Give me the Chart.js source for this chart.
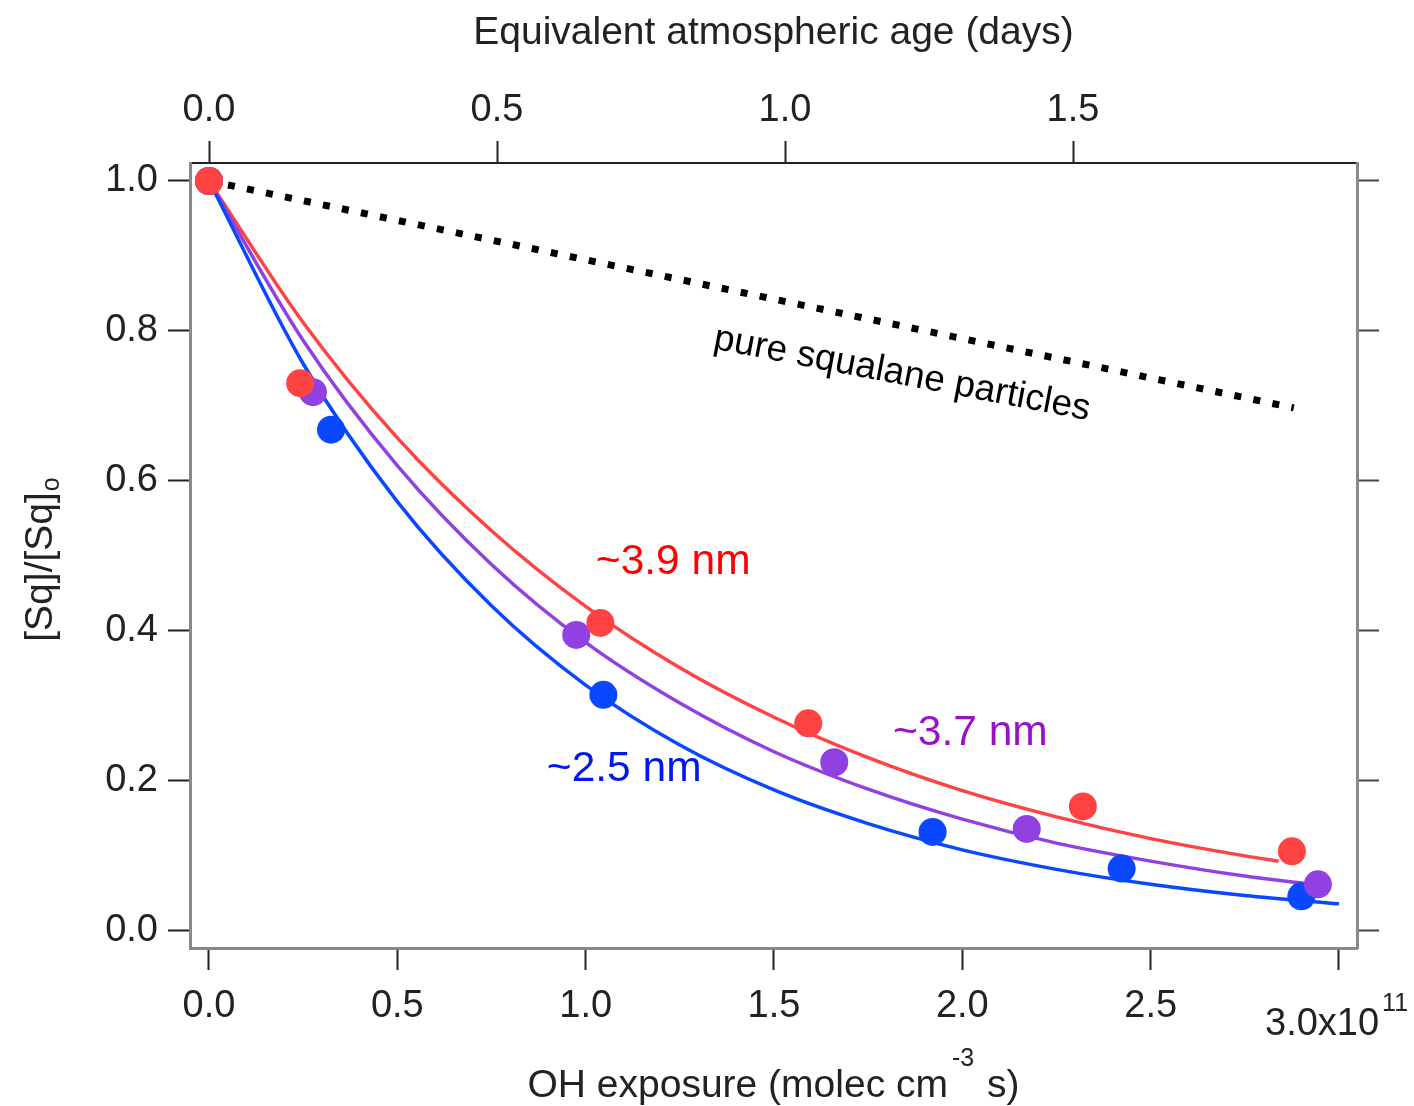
<!DOCTYPE html>
<html>
<head>
<meta charset="utf-8">
<script src="https://cdn.jsdelivr.net/npm/chart.js@4/dist/chart.umd.min.js"></script>
<style>
html,body{margin:0;padding:0;background:#fff;}
canvas{display:block;}
</style>
</head>
<body>
<canvas id="c" width="1414" height="1106"></canvas>
<script>
// ---- Data ----
const ohRed = [0, 0.242, 1.039, 1.591, 2.320, 2.875];
const sqRed = [1.0, 0.730, 0.410, 0.276, 0.165, 0.105];
const ohPurple = [0, 0.276, 0.975, 1.660, 2.171, 2.944];
const sqPurple = [1.0, 0.718, 0.394, 0.224, 0.135, 0.061];
const ohBlue = [0, 0.324, 1.047, 1.921, 2.423, 2.900];
const sqBlue = [1.0, 0.668, 0.314, 0.131, 0.082, 0.045];

const fitXRed = [0, 0.25, 0.5, 0.75, 1.0, 1.25, 1.5, 1.75, 2.0, 2.25, 2.5, 2.75, 2.84];
const fitYRed = [1.0, 0.811, 0.657, 0.533, 0.432, 0.350, 0.284, 0.230, 0.186, 0.151, 0.122, 0.099, 0.092];
const fitXPurple = [0, 0.25, 0.5, 0.75, 1.0, 1.25, 1.5, 1.75, 2.0, 2.25, 2.5, 2.75, 2.93];
const fitYPurple = [1.0, 0.787, 0.620, 0.488, 0.384, 0.303, 0.238, 0.188, 0.148, 0.116, 0.092, 0.072, 0.061];
const fitXBlue = [0, 0.25, 0.5, 0.75, 1.0, 1.25, 1.5, 1.75, 2.0, 2.25, 2.5, 2.75, 3.0];
const fitYBlue = [1.0, 0.756, 0.572, 0.433, 0.327, 0.247, 0.187, 0.142, 0.107, 0.081, 0.061, 0.046, 0.035];

const pureX = [0, 2.88];
const pureY = [1.0, 0.697];

const xTicks = [0, 0.5, 1.0, 1.5, 2.0, 2.5, 3.0];
const yTicks = [0, 0.2, 0.4, 0.6, 0.8, 1.0];
const dayTicks = [0, 0.5, 1.0, 1.5];

const labels = [
  {text: '~3.9 nm', x: 1.027, y: 0.491, color: '#ff0000'},
  {text: '~3.7 nm', x: 1.816, y: 0.263, color: '#9a10c8'},
  {text: '~2.5 nm', x: 0.897, y: 0.214, color: '#0018f0'}
];
const pureLabel = {text: 'pure squalane particles', x: 1.840, y: 0.742};

// ---- helpers ----
const pts = (xs, ys) => xs.map((x, i) => ({x: x, y: ys[i]}));
const FONT = 'Liberation Sans, Arial, Helvetica, sans-serif';
Chart.defaults.font.family = FONT;
Chart.defaults.color = '#222';

const C_RED = '#ff4242', C_PUR = '#9140e2', C_BLU = '#0a48ff';
const TICK_SIZE = 38, TITLE_SIZE = 39;

const annot = {
  id: 'annot',
  afterDatasetsDraw(chart) {
    const ctx = chart.ctx, xs = chart.scales.x, ys = chart.scales.y;
    ctx.save();
    ctx.textBaseline = 'middle';
    ctx.textAlign = 'left';
    ctx.font = '42.5px ' + FONT;
    labels.forEach(l => {
      ctx.fillStyle = l.color;
      ctx.fillText(l.text, xs.getPixelForValue(l.x), ys.getPixelForValue(l.y));
    });
    const px = xs.getPixelForValue(pureLabel.x), py = ys.getPixelForValue(pureLabel.y);
    ctx.translate(px, py);
    ctx.rotate(10.8 * Math.PI / 180);
    ctx.textAlign = 'center';
    ctx.fillStyle = '#000';
    ctx.font = '37px ' + FONT;
    ctx.fillText(pureLabel.text, 0, 0);
    ctx.restore();
  },
  afterDraw(chart) {
    const ctx = chart.ctx, ca = chart.chartArea, xs = chart.scales.x;
    ctx.save();
    ctx.fillStyle = '#222';
    ctx.textBaseline = 'alphabetic';
    ctx.textAlign = 'left';
    // bottom axis title with superscript
    const big = TITLE_SIZE + 'px ' + FONT, small = '25px ' + FONT;
    const p1 = 'OH exposure (molec cm', sup = '-3', p2 = ' s)';
    ctx.font = big; const w1 = ctx.measureText(p1).width, w3 = ctx.measureText(p2).width;
    ctx.font = small; const w2 = ctx.measureText(sup).width;
    const total = w1 + w2 + 6 + w3;
    let x0 = (ca.left + ca.right) / 2 - total / 2;
    const by = 1097;
    ctx.font = big; ctx.fillText(p1, x0, by);
    ctx.font = small; ctx.fillText(sup, x0 + w1 + 4, by - 31);
    ctx.font = big; ctx.fillText(p2, x0 + w1 + w2 + 6, by);
    // exponent tick label at 3.0
    const tx = xs.getPixelForValue(3.0);
    ctx.font = TICK_SIZE + 'px ' + FONT;
    const e1 = '3.0x10';
    const ew = ctx.measureText(e1).width;
    ctx.fillText(e1, tx - 74, 1035);
    ctx.font = small;
    ctx.fillText('11', tx - 74 + ew + 3, 1011);
    // left axis title, rotated, with subscript
    ctx.translate(52, 560);
    ctx.rotate(-Math.PI / 2);
    const y1 = '[Sq]/[Sq]', ysub = 'o';
    ctx.font = big; const yw1 = ctx.measureText(y1).width;
    ctx.font = small; const yw2 = ctx.measureText(ysub).width;
    const yx0 = -(yw1 + yw2) / 2;
    ctx.font = big; ctx.fillText(y1, yx0, 0);
    ctx.font = small; ctx.fillText(ysub, yx0 + yw1 + 1, 7);
    ctx.restore();
  }
};

const tickSetter = (arr) => (scale) => { scale.ticks = arr.map(v => ({value: v})); };

new Chart(document.getElementById('c'), {
  type: 'scatter',
  data: {
    datasets: [
      {label: 'pure squalane', data: pts(pureX, pureY), showLine: true, pointRadius: 0,
       borderColor: '#000', borderWidth: 7, borderDash: [7, 12.4], borderCapStyle: 'butt', order: 10},
      {label: 'fit 2.5 nm', data: pts(fitXBlue, fitYBlue), showLine: true, pointRadius: 0,
       borderColor: C_BLU, borderWidth: 3.5, cubicInterpolationMode: 'monotone', order: 5},
      {label: 'fit 3.7 nm', data: pts(fitXPurple, fitYPurple), showLine: true, pointRadius: 0,
       borderColor: C_PUR, borderWidth: 3.5, cubicInterpolationMode: 'monotone', order: 6},
      {label: 'fit 3.9 nm', data: pts(fitXRed, fitYRed), showLine: true, pointRadius: 0,
       borderColor: C_RED, borderWidth: 3.5, cubicInterpolationMode: 'monotone', order: 7},
      {label: '2.5 nm', data: pts(ohBlue, sqBlue), pointRadius: 14, pointBackgroundColor: C_BLU,
       pointBorderWidth: 0, borderColor: C_BLU, order: 3},
      {label: '3.7 nm', data: pts(ohPurple, sqPurple), pointRadius: 14, pointBackgroundColor: C_PUR,
       pointBorderWidth: 0, borderColor: C_PUR, order: 2},
      {label: '3.9 nm', data: pts(ohRed, sqRed), pointRadius: 14, pointBackgroundColor: C_RED,
       pointBorderWidth: 0, borderColor: C_RED, order: 1}
    ]
  },
  options: {
    responsive: false,
    animation: false,
    devicePixelRatio: 1,
    layout: {padding: 0},
    plugins: {legend: {display: false}, tooltip: {enabled: false}},
    scales: {
      x: {
        type: 'linear', position: 'bottom', min: -0.0504, max: 3.0478,
        afterBuildTicks: tickSetter(xTicks),
        afterFit: (s) => { s.height = 158; },
        grid: {drawOnChartArea: false, drawTicks: true, tickLength: 22, tickWidth: 2, tickColor: '#222'},
        border: {display: true, color: '#888', width: 3},
        ticks: {font: {size: TICK_SIZE}, color: '#222', padding: 14, maxRotation: 0, autoSkip: false,
                callback: (v) => (v === 3 ? '' : v.toFixed(1))}
      },
      x2: {
        type: 'linear', position: 'top', min: -0.033, max: 1.993,
        afterBuildTicks: tickSetter(dayTicks),
        afterFit: (s) => { s.height = 163; },
        grid: {drawOnChartArea: false, drawTicks: true, tickLength: 22, tickWidth: 2, tickColor: '#222'},
        border: {display: true, color: '#222', width: 2},
        ticks: {font: {size: TICK_SIZE}, color: '#222', padding: 8, maxRotation: 0, autoSkip: false,
                callback: (v) => v.toFixed(1)},
        title: {display: true, text: 'Equivalent atmospheric age (days)', font: {size: TITLE_SIZE}, color: '#222',
                padding: {top: 10, bottom: 0}}
      },
      y: {
        type: 'linear', position: 'left', min: -0.024, max: 1.024,
        afterBuildTicks: tickSetter(yTicks),
        afterFit: (s) => { s.width = 190; },
        grid: {drawOnChartArea: false, drawTicks: true, tickLength: 22, tickWidth: 2, tickColor: '#222'},
        border: {display: true, color: '#888', width: 3},
        ticks: {font: {size: TICK_SIZE}, color: '#222', padding: 10, autoSkip: false,
                callback: (v) => v.toFixed(1)}
      },
      y2: {
        type: 'linear', position: 'right', min: -0.024, max: 1.024,
        afterBuildTicks: tickSetter(yTicks),
        afterFit: (s) => { s.width = 57; },
        grid: {drawOnChartArea: false, drawTicks: true, tickLength: 22, tickWidth: 2, tickColor: '#444'},
        border: {display: true, color: '#888', width: 3},
        ticks: {display: true, callback: () => ''}
      }
    }
  },
  plugins: [annot]
});
</script>
</body>
</html>
